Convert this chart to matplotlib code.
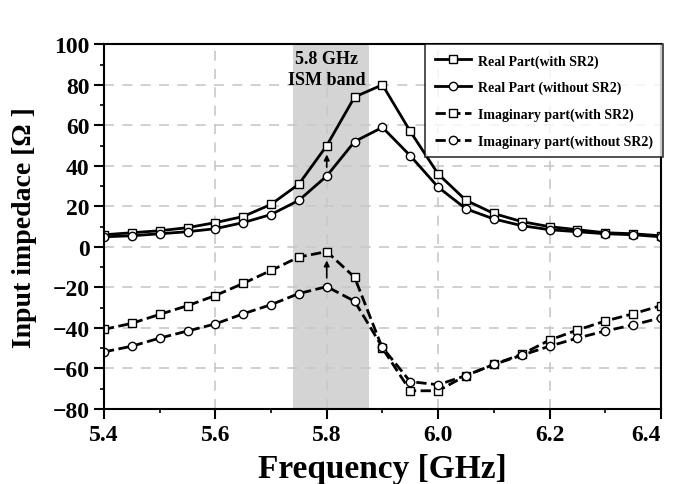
import matplotlib.pyplot as plt
import numpy as np
from matplotlib.ticker import MultipleLocator

plt.rcParams['font.family'] = ['Liberation Serif', 'DejaVu Serif']
plt.rcParams['font.weight'] = 'bold'

# --- data
freq = [5.40, 5.45, 5.50, 5.55, 5.60, 5.65, 5.70, 5.75, 5.80, 5.85, 5.90,
        5.95, 6.00, 6.05, 6.10, 6.15, 6.20, 6.25, 6.30, 6.35, 6.40]
real_with = [6, 7, 8, 9.5, 12, 15, 21, 31, 50, 74, 80,
             57, 36, 23, 16.5, 12.5, 10, 8.5, 7, 6.5, 5.5]
real_without = [5, 5.5, 6.5, 7.5, 9, 12, 16, 23, 35, 52, 59,
                45, 29.5, 18.8, 13.8, 10.5, 8.5, 7.5, 6.5, 6, 5]
imag_with = [-40.7, -37.7, -33.3, -29, -24, -18, -11.6, -5, -2.3, -15, -50,
             -71, -71, -63.5, -58, -53, -46, -41, -36.6, -33, -29]
imag_without = [-51.8, -49, -45, -41.5, -38, -33, -28.5, -23, -19.6, -26.8, -49.6,
                -66.5, -68, -63.5, -58, -53.5, -49, -45, -41.5, -38.5, -35]
labels = ['Real Part(with SR2)', 'Real Part (without SR2)',
          'Imaginary part(with SR2)', 'Imaginary part(without SR2)']
ism_band = (5.74, 5.875)

fig = plt.figure(figsize=(6.73, 4.85), dpi=100)
ax = fig.add_axes([0.1545, 0.1546, 0.8275, 0.752])

ax.axvspan(ism_band[0], ism_band[1], color='#d4d4d4', zorder=0, lw=0)

mk = dict(markersize=6, markerfacecolor='white', markeredgecolor='black',
          markeredgewidth=1.0, color='black')
ax.plot(freq, real_with, '-s', lw=2, label=labels[0], **mk)
ax.plot(freq, real_without, '-o', lw=2, label=labels[1], **mk)
ax.plot(freq, imag_with, '--s', lw=2, label=labels[2], **mk)
ax.plot(freq, imag_without, '--o', lw=2, label=labels[3], **mk)

# arrows at 5.8 GHz
i58 = freq.index(5.80)
for lo, hi in [(real_without, real_with), (imag_without, imag_with)]:
    ax.annotate('', xy=(5.80, hi[i58] - 3), xytext=(5.80, lo[i58] + 3),
                arrowprops=dict(arrowstyle='-|>', color='black', lw=1.2,
                                mutation_scale=8))

ax.text(5.8, 97, '5.8 GHz\nISM band', ha='center', va='top', fontsize=13,
        fontweight='bold', linespacing=1.25)

ax.set_xlim(5.4, 6.4)
ax.set_ylim(-80, 100)
ax.set_xticks([5.4, 5.6, 5.8, 6.0, 6.2, 6.4])
ax.xaxis.set_minor_locator(MultipleLocator(0.1))
ax.yaxis.set_major_locator(MultipleLocator(20))
ax.yaxis.set_minor_locator(MultipleLocator(10))
ax.xaxis.set_major_formatter(plt.FuncFormatter(lambda v, p: f'{v:.1f}'))
ax.tick_params(axis='both', which='major', labelsize=17, width=1.5, length=7,
               direction='out')
ax.tick_params(axis='both', which='minor', width=1.2, length=3, direction='out')

ax.grid(True, which='major', linestyle=(0, (6, 5)), color='#c8c8c8', lw=1.2)
for s in ax.spines.values():
    s.set_linewidth(1.5)

ax.set_xlabel('Frequency [GHz]', fontsize=24, fontweight='bold', labelpad=6)
ax.set_ylabel('Input impedace [\u03a9 ]', fontsize=20, fontweight='bold', labelpad=11)

leg = ax.legend(loc='upper right', bbox_to_anchor=(1.003, 1.0), fontsize=10,
                handlelength=2.6, frameon=True, fancybox=False, edgecolor='black',
                borderpad=0.7, labelspacing=0.95, borderaxespad=0, handletextpad=0.5)
leg.get_frame().set_linewidth(1.2)
for t in leg.get_texts():
    t.set_fontweight('bold')

fig.canvas.draw()
for t in ax.get_xticklabels() + ax.get_yticklabels():
    t.set_fontweight('bold')
    if t.get_text() == '6.4':
        t.set_horizontalalignment('right')

fig.savefig('out.png', dpi=100)
